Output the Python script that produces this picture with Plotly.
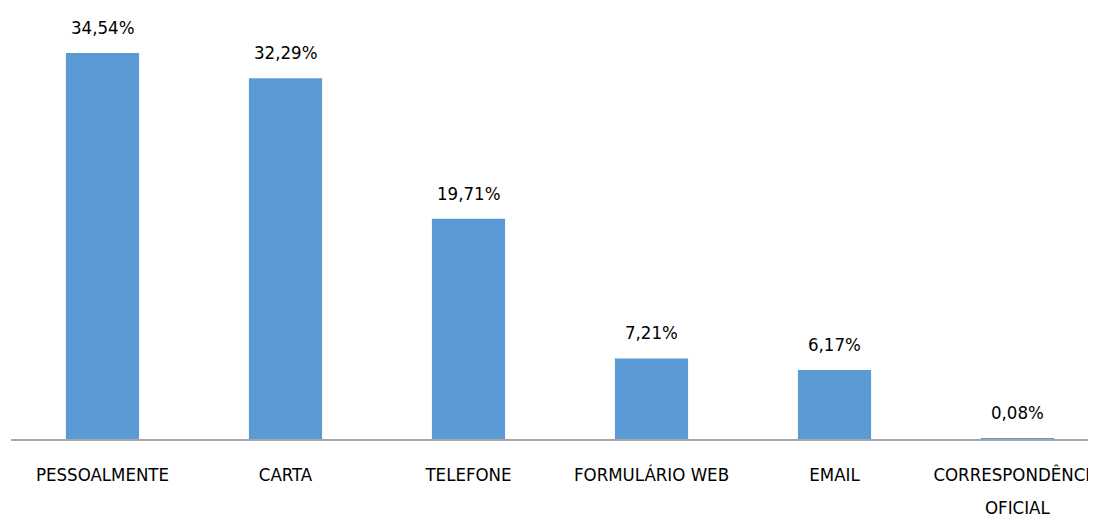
import plotly.graph_objects as go

categories = ["PESSOALMENTE", "CARTA", "TELEFONE", "FORMULÁRIO WEB", "EMAIL", "CORRESPONDÊNCIA"]
category_second_line = ["", "", "", "", "", "OFICIAL"]
values = [34.54, 32.29, 19.71, 7.21, 6.17, 0.08]
labels = ["34,54%", "32,29%", "19,71%", "7,21%", "6,17%", "0,08%"]

FONT = "DejaVu Sans Condensed, Liberation Sans Narrow, sans-serif"
FS = 18.5

fig = go.Figure()
fig.add_trace(go.Bar(
    x=list(range(len(categories))), y=values,
    marker=dict(color="#5B9BD5", line=dict(width=0)),
    hoverinfo="skip",
))

for i, (v, t) in enumerate(zip(values, labels)):
    fig.add_annotation(x=i, y=v, text=t, showarrow=False, yanchor="bottom",
                       yshift=13, font=dict(family=FONT, size=FS, color="#000000"))

for i, t in enumerate(category_second_line):
    if t:
        fig.add_annotation(x=i, xref="x", y=0, yref="paper", text=t, showarrow=False,
                           yanchor="middle", yshift=-68,
                           font=dict(family=FONT, size=FS, color="#000000"))

fig.update_layout(
    width=1088, height=507,
    margin=dict(l=3, r=0, t=0, b=76, autoexpand=False),
    paper_bgcolor="white", plot_bgcolor="white",
    bargap=0.6, showlegend=False,
    font=dict(family=FONT, size=FS, color="#000000"),
    xaxis=dict(
        tickmode="array", tickvals=list(range(len(categories))), ticktext=categories,
        range=[-0.5, 5.5 - 13/183], showline=True, linecolor="#A6A6A6", linewidth=1.5,
        showgrid=False, zeroline=False, ticks="", ticklabelstandoff=18,
        ticklabeloverflow="allow", automargin=False,
        tickfont=dict(family=FONT, size=FS, color="#000000"),
    ),
    yaxis=dict(range=[0, 38.57], visible=False, showgrid=False, zeroline=False),
)

fig.write_html("out.html")
